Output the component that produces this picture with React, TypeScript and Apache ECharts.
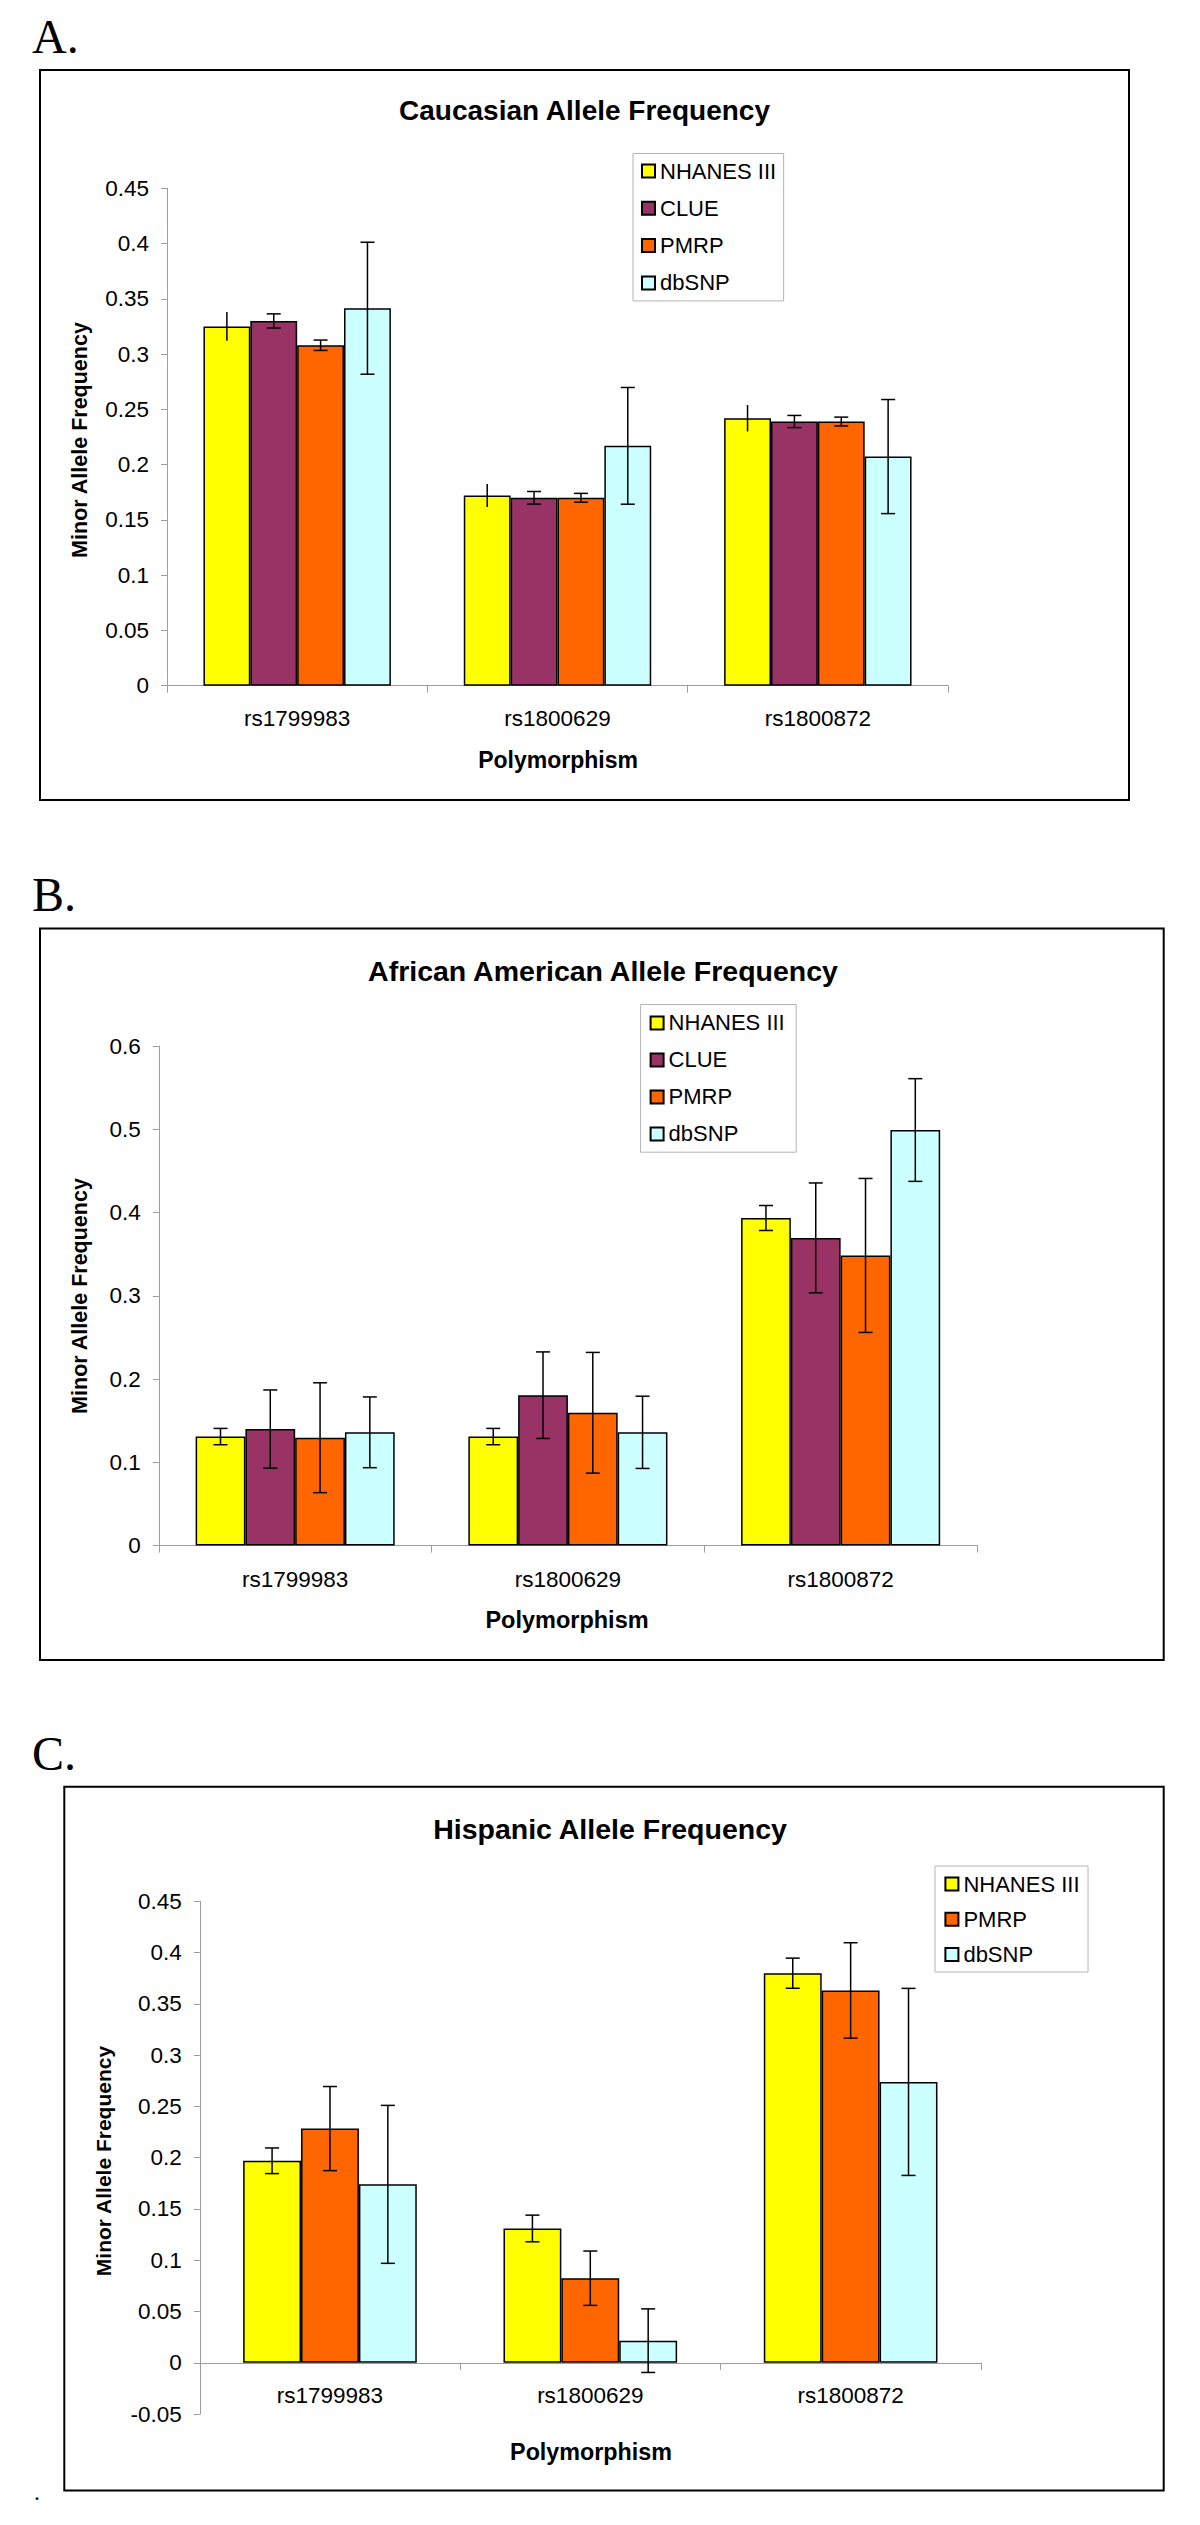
import React, { useEffect, useRef } from "react";
import * as echarts from "echarts";

// ---------- data ----------
const CATEGORIES = ["rs1799983", "rs1800629", "rs1800872"];
const SERIES_NAMES = ["NHANES III", "CLUE", "PMRP", "dbSNP"];
const SERIES_COLORS = ["#FFFF00", "#993366", "#FF6600", "#CCFFFF"];

// Panel A: Caucasian
const A_NHANES = [0.325, 0.172, 0.242];
const A_NHANES_ERR = [0.013, 0.0104, 0.012];
const A_CLUE = [0.330, 0.170, 0.239];
const A_CLUE_ERR = [0.0064, 0.0057, 0.0055];
const A_PMRP = [0.308, 0.170, 0.239];
const A_PMRP_ERR = [0.0047, 0.004, 0.004];
const A_DBSNP = [0.3415, 0.217, 0.2073];
const A_DBSNP_ERR = [0.0597, 0.0528, 0.0516];

// Panel B: African American
const B_NHANES = [0.131, 0.131, 0.3936];
const B_NHANES_ERR = [0.0098, 0.0098, 0.015];
const B_CLUE = [0.140, 0.1807, 0.3697];
const B_CLUE_ERR = [0.047, 0.052, 0.066];
const B_PMRP = [0.1296, 0.1596, 0.3486];
const B_PMRP_ERR = [0.066, 0.0725, 0.0925];
const B_DBSNP = [0.1361, 0.1361, 0.4993];
const B_DBSNP_ERR = [0.0425, 0.0434, 0.0617];

// Panel C: Hispanic
const C_NHANES = [0.197, 0.131, 0.3799];
const C_NHANES_ERR = [0.0125, 0.013, 0.0147];
const C_PMRP = [0.2284, 0.0825, 0.3631];
const C_PMRP_ERR = [0.041, 0.0265, 0.0465];
const C_DBSNP = [0.174, 0.0216, 0.2739];
const C_DBSNP_ERR = [0.077, 0.031, 0.0912];

// y-axis ranges
const A_Y = { min: 0, max: 0.45, interval: 0.05 };
const B_Y = { min: 0, max: 0.6, interval: 0.1 };
const C_Y = { min: -0.05, max: 0.45, interval: 0.05 };

const SANS = "'Liberation Sans', Arial, sans-serif";
const SERIF = "'Liberation Serif', 'Times New Roman', serif";

type SeriesDef = { name: string; color: string; values: number[]; errors: number[]; caps: boolean };

type PanelDef = {
  series: SeriesDef[];
  gap: number;
  grid: { left: number; top: number; width: number; height: number };
  y: { min: number; max: number; interval: number };
  legend: { left: number; top: number; padding: number[]; itemGap: number };
  xLabelMargin: number;
};

const panels: PanelDef[] = [
  {
    series: [
      { name: SERIES_NAMES[0], color: SERIES_COLORS[0], values: A_NHANES, errors: A_NHANES_ERR, caps: false },
      { name: SERIES_NAMES[1], color: SERIES_COLORS[1], values: A_CLUE, errors: A_CLUE_ERR, caps: true },
      { name: SERIES_NAMES[2], color: SERIES_COLORS[2], values: A_PMRP, errors: A_PMRP_ERR, caps: true },
      { name: SERIES_NAMES[3], color: SERIES_COLORS[3], values: A_DBSNP, errors: A_DBSNP_ERR, caps: true },
    ],
    gap: 0.28,
    grid: { left: 167, top: 188.3, width: 781, height: 497.4 },
    y: A_Y,
    legend: { left: 633, top: 153.5, padding: [6.5, 7.5, 7, 8], itemGap: 15.3 },
    xLabelMargin: 21,
  },
  {
    series: [
      { name: SERIES_NAMES[0], color: SERIES_COLORS[0], values: B_NHANES, errors: B_NHANES_ERR, caps: true },
      { name: SERIES_NAMES[1], color: SERIES_COLORS[1], values: B_CLUE, errors: B_CLUE_ERR, caps: true },
      { name: SERIES_NAMES[2], color: SERIES_COLORS[2], values: B_PMRP, errors: B_PMRP_ERR, caps: true },
      { name: SERIES_NAMES[3], color: SERIES_COLORS[3], values: B_DBSNP, errors: B_DBSNP_ERR, caps: true },
    ],
    gap: 0.27,
    grid: { left: 158.8, top: 1046.2, width: 818.2, height: 499.4 },
    y: B_Y,
    legend: { left: 640.6, top: 1004.5, padding: [7.4, 11.5, 7.3, 9], itemGap: 15 },
    xLabelMargin: 22,
  },
  {
    series: [
      { name: SERIES_NAMES[0], color: SERIES_COLORS[0], values: C_NHANES, errors: C_NHANES_ERR, caps: true },
      { name: SERIES_NAMES[2], color: SERIES_COLORS[2], values: C_PMRP, errors: C_PMRP_ERR, caps: true },
      { name: SERIES_NAMES[3], color: SERIES_COLORS[3], values: C_DBSNP, errors: C_DBSNP_ERR, caps: true },
    ],
    gap: 0.333,
    grid: { left: 199.8, top: 1901.3, width: 781, height: 512.8 },
    y: C_Y,
    legend: { left: 935, top: 1866, padding: [7, 8.5, 6.4, 9.4], itemGap: 13.3 },
    xLabelMargin: 21,
  },
];

const AXIS_GRAY = "#9C9C9C";

function buildOption() {
  const grid: any[] = [];
  const xAxis: any[] = [];
  const yAxis: any[] = [];
  const legend: any[] = [];
  const series: any[] = [];

  panels.forEach((p, pi) => {
    grid.push({ ...p.grid, containLabel: false });
    // place the category axis (line, ticks and labels together) at value 0
    const zeroOffset = (p.grid.height * (0 - p.y.min)) / (p.y.max - p.y.min);
    xAxis.push({
      type: "category",
      gridIndex: pi,
      position: "bottom",
      offset: -zeroOffset,
      data: CATEGORIES,
      axisLine: { show: true, onZero: false, lineStyle: { color: AXIS_GRAY, width: 1 } },
      axisTick: { show: true, length: 7, lineStyle: { color: AXIS_GRAY, width: 1 } },
      axisLabel: { color: "#000", fontFamily: SANS, fontSize: 22.5, margin: p.xLabelMargin },
      splitLine: { show: false },
    });
    yAxis.push({
      type: "value",
      gridIndex: pi,
      min: p.y.min,
      max: p.y.max,
      interval: p.y.interval,
      axisLine: { show: true, lineStyle: { color: AXIS_GRAY, width: 1 } },
      axisTick: { show: true, length: 6, lineStyle: { color: AXIS_GRAY, width: 1 } },
      axisLabel: {
        color: "#000",
        fontFamily: SANS,
        fontSize: 22.5,
        margin: 18,
        formatter: (v: number) => String(parseFloat(v.toFixed(2))),
      },
      splitLine: { show: false },
    });
    legend.push({
      orient: "vertical",
      left: p.legend.left,
      top: p.legend.top,
      padding: p.legend.padding,
      itemGap: p.legend.itemGap,
      itemWidth: 13,
      itemHeight: 13,
      icon: "rect",
      borderColor: "#B4B4B4",
      borderWidth: 1,
      backgroundColor: "#fff",
      data: p.series.map((s) => s.name),
      textStyle: { color: "#000", fontFamily: SANS, fontSize: 22, lineHeight: 22 },
      selectedMode: false,
    });

    const n = p.series.length;
    p.series.forEach((s) => {
      series.push({
        type: "bar",
        name: s.name,
        xAxisIndex: pi,
        yAxisIndex: pi,
        data: s.values,
        barGap: "0%",
        barCategoryGap: `${p.gap * 100}%`,
        itemStyle: { color: s.color, borderColor: "#000", borderWidth: 1.5 },
        emphasis: { disabled: true },
        z: 2,
      });
    });

    const errData: number[][] = [];
    p.series.forEach((s, si) => {
      s.values.forEach((v, ci) => {
        errData.push([ci, v, s.errors[ci], si, s.caps ? 1 : 0]);
      });
    });
    const gapFrac = p.gap;
    series.push({
      type: "custom",
      name: `err${pi}`,
      xAxisIndex: pi,
      yAxisIndex: pi,
      data: errData,
      encode: { x: 0, y: 1 },
      clip: false,
      z: 5,
      silent: true,
      renderItem: (params: any, api: any) => {
        const cat = api.value(0);
        const v = api.value(1);
        const e = api.value(2);
        const si = api.value(3);
        const cap = api.value(4);
        const band = api.size([1, 0])[0];
        const barW = (band * (1 - gapFrac)) / n;
        const c = api.coord([cat, v]);
        const x = c[0] + (si - (n - 1) / 2) * barW;
        const yTop = api.coord([cat, v + e])[1];
        const yBot = api.coord([cat, v - e])[1];
        const style = { stroke: "#000", lineWidth: 1.5, fill: "none" };
        const children: any[] = [
          { type: "line", shape: { x1: x, y1: yTop, x2: x, y2: yBot }, style },
        ];
        if (cap) {
          const hw = 7;
          children.push({ type: "line", shape: { x1: x - hw, y1: yTop, x2: x + hw, y2: yTop }, style });
          children.push({ type: "line", shape: { x1: x - hw, y1: yBot, x2: x + hw, y2: yBot }, style });
        }
        return { type: "group", children };
      },
    });
  });

  const text = (
    t: string,
    x: number,
    y: number,
    opts: { size: number; bold?: boolean; family?: string; align?: string; rotate?: boolean }
  ) => ({
    type: "text",
    x,
    y,
    rotation: opts.rotate ? Math.PI / 2 : 0,
    silent: true,
    style: {
      text: t,
      fill: "#000",
      fontSize: opts.size,
      fontWeight: opts.bold ? "bold" : "normal",
      fontFamily: opts.family || SANS,
      align: opts.align || "center",
      verticalAlign: "middle",
    },
  });

  const box = (x: number, y: number, w: number, h: number) => ({
    type: "rect",
    shape: { x, y, width: w, height: h },
    silent: true,
    z: -1,
    style: { fill: "none", stroke: "#000", lineWidth: 2 },
  });

  const graphic: any[] = [
    // Panel A
    box(40, 70, 1089, 730),
    text("A.", 32, 36, { size: 48, family: SERIF, align: "left" }),
    text("Caucasian Allele Frequency", 584.5, 110.5, { size: 28, bold: true }),
    text("Minor Allele Frequency", 80, 440, { size: 21.5, bold: true, rotate: true }),
    text("Polymorphism", 558, 760, { size: 23, bold: true }),
    // Panel B
    box(40, 928.4, 1123.7, 731.6),
    text("B.", 32, 894, { size: 48, family: SERIF, align: "left" }),
    text("African American Allele Frequency", 603, 971, { size: 28.5, bold: true }),
    text("Minor Allele Frequency", 80.4, 1296, { size: 21.5, bold: true, rotate: true }),
    text("Polymorphism", 567, 1620, { size: 23.5, bold: true }),
    // Panel C
    box(64.3, 1786.7, 1099.4, 703.9),
    text("C.", 32, 1753, { size: 48, family: SERIF, align: "left" }),
    text("Hispanic Allele Frequency", 610, 1829, { size: 28.5, bold: true }),
    text("Minor Allele Frequency", 103.3, 2161, { size: 21, bold: true, rotate: true }),
    text("Polymorphism", 591, 2452.4, { size: 23.3, bold: true }),
    text(".", 34, 2492, { size: 24, family: SERIF, align: "left" }),
  ];

  return {
    animation: false,
    backgroundColor: "#fff",
    grid,
    xAxis,
    yAxis,
    legend,
    series,
    graphic,
  };
}

export default function App() {
  const ref = useRef<HTMLDivElement>(null);
  useEffect(() => {
    if (!ref.current) return;
    const chart = echarts.init(ref.current, undefined, { renderer: "svg" });
    chart.setOption(buildOption() as any);
    return () => {
      chart.dispose();
    };
  }, []);
  return (
    <div
      ref={ref}
      style={{ position: "absolute", left: 0, top: 0, width: 1200, height: 2525, background: "#fff" }}
    />
  );
}
